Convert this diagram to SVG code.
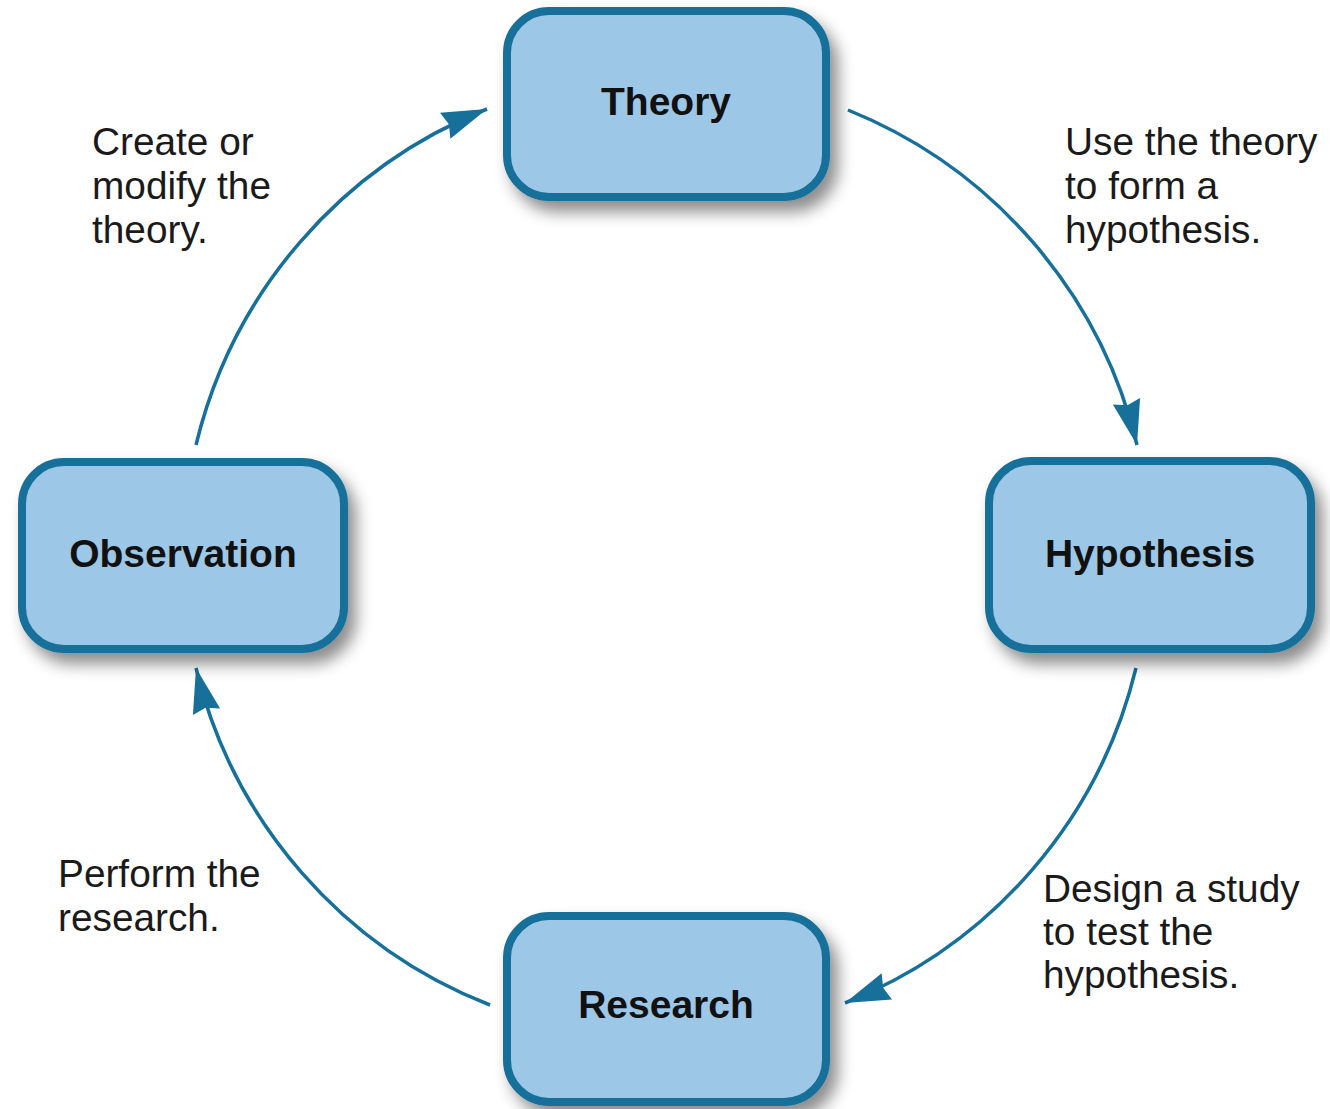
<svg xmlns="http://www.w3.org/2000/svg" width="1330" height="1109" viewBox="0 0 1330 1109">
<style>
.box{fill:#9dc7e6;stroke:#17709a;stroke-width:8}
.nt{font-family:"Liberation Sans",Arial,sans-serif;font-weight:bold;font-size:39px;fill:#111;text-anchor:middle}
.lb{font-family:"Liberation Sans",Arial,sans-serif;font-size:38.8px;fill:#1a1a1a}
.arc{fill:none;stroke:#17709a;stroke-width:3.5}
</style>
<defs>
<filter id="sh" x="-20%" y="-20%" width="150%" height="160%">
<feDropShadow dx="8" dy="11" stdDeviation="8" flood-color="#000" flood-opacity="0.45"/>
</filter>
<marker id="ah" markerUnits="userSpaceOnUse" markerWidth="60" markerHeight="40" viewBox="-50 -20 60 40" refX="0" refY="0" orient="auto">
<path d="M0,0 L-45,-14 L-41,0 L-45,14 Z" fill="#17709a"/>
</marker>
</defs>
<rect width="1330" height="1109" fill="#fff"/>
<g id="connectors">
<path class="arc" d="M848,110 A483,483 0 0 1 1137,445" marker-end="url(#ah)"/>
<path class="arc" d="M1136,668 A483,483 0 0 1 845,1003" marker-end="url(#ah)"/>
<path class="arc" d="M490,1005 A483,483 0 0 1 196,668" marker-end="url(#ah)"/>
<path class="arc" d="M196,445 A483,483 0 0 1 487,109" marker-end="url(#ah)"/>
</g>
<g id="theory">
<rect class="box" x="507" y="11" width="319" height="186" rx="42" filter="url(#sh)"/>
<text class="nt" x="666" y="115">Theory</text>
</g>
<g id="hypothesis">
<rect class="box" x="989" y="461" width="322" height="188" rx="42" filter="url(#sh)"/>
<text class="nt" x="1150" y="567">Hypothesis</text>
</g>
<g id="research">
<rect class="box" x="507" y="916" width="319" height="186" rx="42" filter="url(#sh)"/>
<text class="nt" x="666" y="1018">Research</text>
</g>
<g id="observation">
<rect class="box" x="22" y="462" width="322" height="187" rx="42" filter="url(#sh)"/>
<text class="nt" x="183" y="567">Observation</text>
</g>
<g id="labels">
<text class="lb"><tspan x="92" y="155">Create or</tspan><tspan x="92" y="199">modify the</tspan><tspan x="92" y="243">theory.</tspan></text>
<text class="lb"><tspan x="1065" y="155">Use the theory</tspan><tspan x="1065" y="199">to form a</tspan><tspan x="1065" y="243">hypothesis.</tspan></text>
<text class="lb"><tspan x="58" y="887">Perform the</tspan><tspan x="58" y="931">research.</tspan></text>
<text class="lb"><tspan x="1043" y="902">Design a study</tspan><tspan x="1043" y="945">to test the</tspan><tspan x="1043" y="988">hypothesis.</tspan></text>
</g>
</svg>
